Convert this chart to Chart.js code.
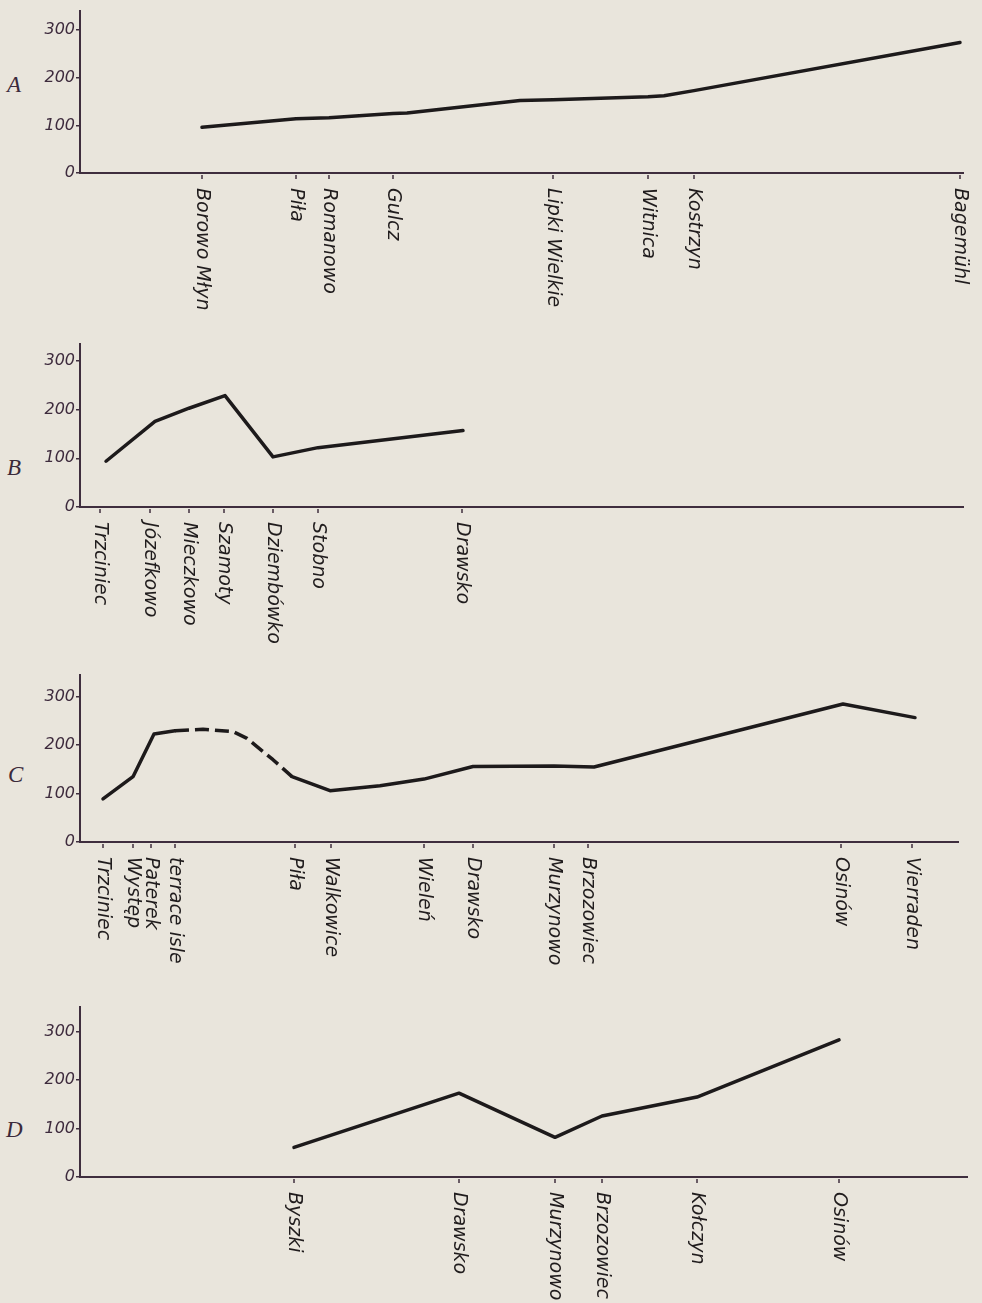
<!DOCTYPE html>
<html>
<head>
<meta charset="utf-8">
<script src="https://cdn.jsdelivr.net/npm/chart.js@4.4.1/dist/chart.umd.min.js"></script>
<style>
  html, body { margin: 0; padding: 0; background: #e9e5dc; }
  body { position: relative; width: 982px; height: 1303px; overflow: hidden; }
  canvas { position: absolute; left: 0; }
  .panel-letter { position: absolute; font: italic 23px "Liberation Serif", serif; line-height: 23px; color: #3b2a3a; }
</style>
</head>
<body>
<div class="panel-letter" style="left:7px; top:73px">A</div>
<div class="panel-letter" style="left:7px; top:456px">B</div>
<div class="panel-letter" style="left:8px; top:763px">C</div>
<div class="panel-letter" style="left:6px; top:1118px">D</div>
<canvas id="chartA"></canvas>
<canvas id="chartB"></canvas>
<canvas id="chartC"></canvas>
<canvas id="chartD"></canvas>
<script>
// y axis ticks, same for every profile
const yTicks = [0, 100, 200, 300];

// A
const namesA = ['Borowo Młyn', 'Piła', 'Romanowo', 'Gulcz', 'Lipki Wielkie', 'Witnica', 'Kostrzyn', 'Bagemühl'];
const posA = [122, 216, 249, 313, 473, 568, 614, 880];
const lineXA = [122, 216, 249, 313, 327, 440, 473, 568, 584, 614, 880];
const lineYA = [96, 114, 116, 125, 126, 152, 154, 160, 162, 173, 274];

// B
const namesB = ['Trzciniec', 'Józefkowo', 'Mieczkowo', 'Szamoty', 'Dziembówko', 'Stobno', 'Drawsko'];
const posB = [20, 70, 109, 144, 193, 238, 382];
const lineXB = [26, 75, 109, 145, 193, 238, 383];
const lineYB = [94, 176, 203, 229, 103, 122, 157];

// C (solid part has a gap where the dashed stretch is)
const namesC = ['Trzciniec', 'Występ', 'Paterek', 'terrace isle', 'Piła', 'Walkowice', 'Wieleń', 'Drawsko', 'Murzynowo', 'Brzozowiec', 'Osinów', 'Vierraden'];
const posC = [23, 53, 71, 95, 215, 251, 344, 393, 474, 508, 761, 832];
const lineXC = [23, 53, 74, 95, 150, 212, 250, 300, 344, 393, 474, 514, 763, 835];
const lineYC = [89, 135, 223, 230, null, 135, 106, 116, 130, 156, 157, 155, 285, 257];
const dashXC = [95, 123, 153, 167, 193, 212];
const dashYC = [230, 233, 228, 214, 170, 135];

// D
const namesD = ['Byszki', 'Drawsko', 'Murzynowo', 'Brzozowiec', 'Kołczyn', 'Osinów'];
const posD = [214, 379, 475, 522, 617, 759];
const lineXD = [214, 379, 475, 522, 617, 759];
const lineYD = [61, 173, 82, 126, 165, 283];

const AXIS = '#3f2e3e';
const INK = '#1d1a1b';

function pts(xs, ys) {
  return xs.map((x, i) => ({ x: x, y: ys[i] }));
}

// tick marks and rotated place names under the x axis
function stationLabels(names, pos) {
  return {
    id: 'stationLabels',
    afterDraw(chart) {
      const { ctx, chartArea } = chart;
      const x = chart.scales.x;
      ctx.save();
      names.forEach((name, i) => {
        const px = x.getPixelForValue(pos[i]);
        ctx.strokeStyle = AXIS;
        ctx.lineWidth = 1.5;
        ctx.beginPath();
        ctx.moveTo(px, chartArea.bottom + 2);
        ctx.lineTo(px, chartArea.bottom + 6);
        ctx.stroke();
        ctx.save();
        ctx.translate(px, chartArea.bottom + 15);
        ctx.rotate(Math.PI / 2);
        ctx.font = 'italic 19px "DejaVu Sans"';
        ctx.fillStyle = '#201c1d';
        ctx.textAlign = 'left';
        ctx.textBaseline = 'middle';
        ctx.fillText(name, 0, 0);
        ctx.restore();
      });
      ctx.restore();
    }
  };
}

function line(data, dash) {
  return {
    data: data,
    borderColor: INK,
    borderWidth: 3.5,
    borderDash: dash || [],
    borderJoinStyle: 'round',
    borderCapStyle: dash ? 'butt' : 'round',
    pointRadius: 0,
    tension: 0,
    fill: false
  };
}

function panel(id, cfg) {
  const cv = document.getElementById(id);
  cv.width = 982;
  cv.height = cfg.height;
  cv.style.top = cfg.top + 'px';
  new Chart(cv, {
    type: 'line',
    data: { datasets: cfg.datasets },
    options: {
      responsive: false,
      animation: false,
      layout: { padding: { left: 0, right: 982 - cfg.axisEnd, top: cfg.axisTop - cfg.top, bottom: 0 } },
      plugins: { legend: { display: false }, tooltip: { enabled: false } },
      scales: {
        x: {
          type: 'linear', min: 0, max: cfg.xMax,
          ticks: { display: false },
          grid: { display: false },
          border: { display: true, color: AXIS, width: 2 },
          afterFit: s => { s.height = cfg.height - (cfg.baseline - cfg.top); }
        },
        y: {
          min: 0, max: cfg.yMax,
          afterBuildTicks: s => { s.ticks = yTicks.map(v => ({ value: v })); },
          ticks: { font: { family: 'DejaVu Sans', size: 16, style: 'italic' }, color: '#3e2b3d', padding: 1 },
          grid: { drawOnChartArea: false, tickLength: 4, color: AXIS, lineWidth: 1.5 },
          border: { color: AXIS, width: 2 },
          afterFit: s => { s.width = 80; }
        }
      }
    },
    plugins: [stationLabels(cfg.names, cfg.pos)]
  });
}

panel('chartA', { top: 0, height: 330, axisTop: 5, baseline: 173, axisEnd: 963, xMax: 883, yMax: 341,
  names: namesA, pos: posA, datasets: [line(pts(lineXA, lineYA))] });
panel('chartB', { top: 330, height: 330, axisTop: 344, baseline: 507, axisEnd: 963, xMax: 883, yMax: 335,
  names: namesB, pos: posB, datasets: [line(pts(lineXB, lineYB))] });
panel('chartC', { top: 660, height: 320, axisTop: 675, baseline: 842, axisEnd: 958, xMax: 878, yMax: 345,
  names: namesC, pos: posC, datasets: [line(pts(lineXC, lineYC)), line(pts(dashXC, dashYC), [14, 6])] });
panel('chartD', { top: 980, height: 323, axisTop: 1007, baseline: 1177, axisEnd: 967, xMax: 887, yMax: 351,
  names: namesD, pos: posD, datasets: [line(pts(lineXD, lineYD))] });
</script>
</body>
</html>
